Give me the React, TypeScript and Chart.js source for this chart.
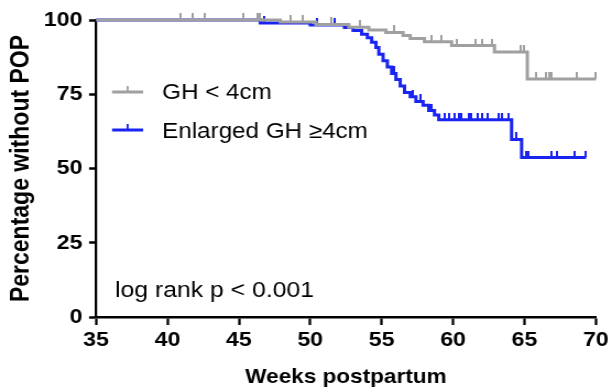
import React, { useEffect, useRef } from 'react';
import { Chart, registerables } from 'chart.js';

Chart.register(...registerables);

// ---------- data ----------
const X_MIN = 35;
const X_MAX = 70;
const X_STEP = 5;
const Y_MIN = 0;
const Y_MAX = 100;
const Y_STEP = 25;

const GRAY_LABEL = 'GH < 4cm';
const BLUE_LABEL = 'Enlarged GH \u22654cm';
const NOTE = 'log rank p < 0.001';
const X_TITLE = 'Weeks postpartum';
const Y_TITLE = 'Percentage without POP';

// Kaplan-Meier steps: survival becomes value at given week
const grayTimes = [35, 47.9, 50.4, 52.7, 54.1, 55.3, 56.5, 57.0, 58.0, 59.9, 62.9, 65.2, 70.0];
const graySurv = [100, 99.3, 98.5, 97.6, 96.6, 95.8, 94.8, 93.8, 92.7, 91.4, 89.2, 80.1, 80.1];
const grayCensor = [40.9, 41.8, 42.6, 45.3, 46.3, 46.5, 48.6, 49.5, 51.5, 53.5, 55.9, 58.5, 59.2, 60.3, 61.6, 62.0, 62.7, 64.7, 65.0, 65.8, 66.5, 66.7, 66.9, 68.7, 70.0];

const blueTimes = [35, 46.5, 50.0, 52.4, 53.0, 53.6, 54.0, 54.3, 54.6, 54.8, 55.1, 55.4, 55.7, 56.0, 56.3, 56.6, 57.0, 57.4, 57.9, 58.3, 58.7, 59.0, 64.1, 64.8, 69.3];
const blueSurv = [100, 99.0, 98.3, 97.5, 96.5, 95.2, 94.0, 92.5, 90.7, 88.5, 86.3, 84.2, 82.0, 80.0, 77.8, 75.6, 74.2, 72.6, 71.3, 69.5, 68.0, 66.4, 59.8, 53.7, 53.7];
const blueCensor = [46.8, 50.5, 51.7, 55.9, 57.2, 57.7, 58.5, 59.4, 59.7, 60.1, 60.4, 60.6, 61.1, 61.3, 61.7, 62.0, 62.4, 63.2, 63.4, 63.9, 64.4, 65.1, 65.3, 66.9, 67.3, 68.5, 69.3];

// ---------- style ----------
const GRAY = 'rgb(160,160,160)';
const BLUE = 'rgb(26,36,240)';
const FONT = "'Liberation Sans', Arial, Helvetica, sans-serif";
const SX = 1.1; // horizontal stretch of the figure
const CW = Math.round(612 / SX);
const CH = 392;

function survivalAt(times: number[], surv: number[], t: number) {
  let v = surv[0];
  for (let i = 0; i < times.length; i++) {
    if (times[i] <= t) v = surv[i];
  }
  return v;
}

function makeTick(color: string) {
  const c = document.createElement('canvas');
  c.width = 2;
  c.height = 14;
  const g = c.getContext('2d')!;
  g.fillStyle = color;
  g.fillRect(0, 0, 2, 7);
  return c;
}

const overlay = {
  id: 'overlay',
  afterDraw(chart: any) {
    const ctx = chart.ctx as CanvasRenderingContext2D;
    ctx.save();
    const items = [
      { label: GRAY_LABEL, color: GRAY, y: 92, base: 98.5 },
      { label: BLUE_LABEL, color: BLUE, y: 130, base: 138 },
    ];
    ctx.font = `22px ${FONT}`;
    ctx.textBaseline = 'alphabetic';
    ctx.textAlign = 'left';
    for (const it of items) {
      ctx.strokeStyle = it.color;
      ctx.lineWidth = 3;
      ctx.beginPath();
      ctx.moveTo(112 / SX, it.y);
      ctx.lineTo(143 / SX, it.y);
      ctx.stroke();
      ctx.lineWidth = 2 / SX;
      ctx.beginPath();
      ctx.moveTo(127.5 / SX, it.y);
      ctx.lineTo(127.5 / SX, it.y - 6);
      ctx.stroke();
      ctx.fillStyle = '#000';
      ctx.fillText(it.label, 162 / SX, it.base);
    }
    ctx.font = `22.5px ${FONT}`;
    ctx.fillStyle = '#000';
    ctx.fillText(NOTE, 115 / SX, 297);
    ctx.restore();
  },
};

export default function App() {
  const ref = useRef<HTMLCanvasElement>(null);

  useEffect(() => {
    const canvas = ref.current!;
    const grayTick = makeTick(GRAY);
    const blueTick = makeTick(BLUE);
    const toPts = (t: number[], s: number[]) => t.map((x, i) => ({ x, y: s[i] }));
    const censorPts = (c: number[], t: number[], s: number[]) => c.map((x) => ({ x, y: survivalAt(t, s, x) }));

    const tickFont = { family: FONT, size: 21, weight: 'bold' as const };

    const chart = new Chart(canvas, {
      type: 'line',
      data: {
        datasets: [
          {
            label: GRAY_LABEL,
            data: toPts(grayTimes, graySurv),
            borderColor: GRAY,
            borderWidth: 3,
            stepped: true,
            pointRadius: 0,
            fill: false,
            clip: false as any,
          },
          {
            label: GRAY_LABEL + ' censored',
            data: censorPts(grayCensor, grayTimes, graySurv),
            showLine: false,
            pointStyle: grayTick as any,
            pointRadius: 3,
            clip: false as any,
          },
          {
            label: BLUE_LABEL,
            data: toPts(blueTimes, blueSurv),
            borderColor: BLUE,
            borderWidth: 3,
            stepped: true,
            pointRadius: 0,
            fill: false,
            clip: false as any,
          },
          {
            label: BLUE_LABEL + ' censored',
            data: censorPts(blueCensor, blueTimes, blueSurv),
            showLine: false,
            pointStyle: blueTick as any,
            pointRadius: 3,
            clip: false as any,
          },
        ],
      },
      options: {
        responsive: false,
        animation: false,
        devicePixelRatio: 1,
        events: [],
        layout: { padding: { top: 20, right: CW - 597 / SX, bottom: 0, left: 0 } },
        plugins: { legend: { display: false }, tooltip: { enabled: false } },
        scales: {
          x: {
            type: 'linear',
            min: X_MIN,
            max: X_MAX,
            ticks: { stepSize: X_STEP, font: tickFont, color: '#000', padding: 3, maxRotation: 0, autoSkip: false },
            grid: { drawOnChartArea: false, drawTicks: true, tickLength: 8, tickWidth: 2.5 / SX, tickColor: '#000' },
            border: { display: true, color: '#000', width: 2.5 },
            title: { display: true, text: X_TITLE, color: '#000', font: { family: FONT, size: 20.5, weight: 'bold' }, padding: { top: 0, bottom: 2 } },
            afterFit: (s: any) => { s.height = CH - 317; },
          },
          y: {
            type: 'linear',
            min: Y_MIN,
            max: Y_MAX,
            ticks: { stepSize: Y_STEP, font: tickFont, color: '#000', padding: 6 },
            grid: { drawOnChartArea: false, drawTicks: true, tickLength: 7 / SX, tickWidth: 2.5, tickColor: '#000' },
            border: { display: true, color: '#000', width: 2.5 / SX },
            title: { display: true, text: Y_TITLE, color: '#000', font: { family: FONT, size: 23, weight: 'bold' }, padding: { top: 6, bottom: 0 } },
            afterFit: (s: any) => { s.width = 96 / SX; },
          },
        },
      },
      plugins: [overlay],
    } as any);
    return () => chart.destroy();
  }, []);

  return (
    <div style={{ position: 'fixed', left: 0, top: 0, width: 612, height: 392, background: '#fff' }}>
      <canvas ref={ref} width={CW} height={CH} style={{ width: '612px', height: '392px', display: 'block' }} />
    </div>
  );
}
